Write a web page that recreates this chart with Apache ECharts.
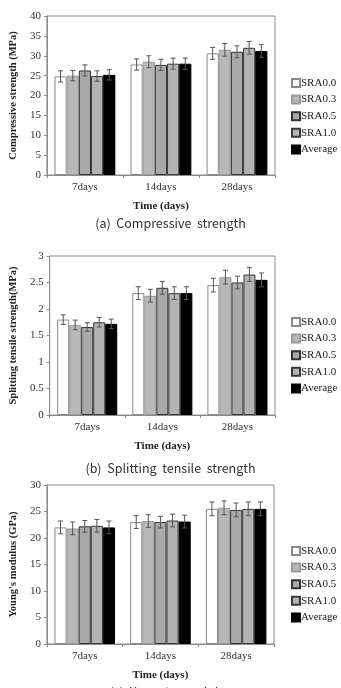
<!DOCTYPE html>
<html>
<head>
<meta charset="utf-8">
<script src="https://cdn.jsdelivr.net/npm/echarts@6/dist/echarts.min.js"></script>
<style>
  html, body { margin: 0; padding: 0; background: #fff; }
  #main { width: 341px; height: 688px; }
</style>
</head>
<body>
<div id="main"></div>
<script>
// data
const days = ['7days', '14days', '28days'];
const names = ['SRA0.0', 'SRA0.3', 'SRA0.5', 'SRA1.0', 'Average'];

const compressive = [
  [24.8, 27.8, 30.6],
  [25.0, 28.5, 31.5],
  [26.3, 27.7, 31.0],
  [24.9, 28.0, 32.0],
  [25.2, 28.0, 31.2]
];
const compressiveErr = [
  [1.4, 1.4, 1.5],
  [1.3, 1.5, 1.6],
  [1.4, 1.4, 1.5],
  [1.3, 1.4, 1.6],
  [1.3, 1.4, 1.6]
];

const tensile = [
  [1.80, 2.30, 2.45],
  [1.70, 2.25, 2.60],
  [1.66, 2.40, 2.50],
  [1.75, 2.30, 2.65],
  [1.72, 2.30, 2.55]
];
const tensileErr = [
  [0.09, 0.12, 0.13],
  [0.09, 0.12, 0.13],
  [0.08, 0.12, 0.12],
  [0.09, 0.12, 0.13],
  [0.09, 0.12, 0.13]
];

const modulus = [
  [22.0, 23.0, 25.5],
  [21.8, 23.2, 25.7],
  [22.2, 23.0, 25.3],
  [22.3, 23.3, 25.5],
  [22.0, 23.1, 25.5]
];
const modulusErr = [
  [1.2, 1.2, 1.3],
  [1.2, 1.2, 1.3],
  [1.1, 1.1, 1.3],
  [1.2, 1.2, 1.3],
  [1.2, 1.2, 1.3]
];

const fills = ['#ffffff', '#b8b8b8', '#a9a9a9', '#b3b3b3', '#000000'];
const borders = ['#8a8a8a', '#9a9a9a', '#333333', '#3a3a3a', '#000000'];

const serif = '"Liberation Serif", "DejaVu Serif", serif';
const catGap = 0.2;

const panels = [
  { vals: compressive, errs: compressiveErr, yName: 'Compressive strength (MPa)', max: 40, step: 5,
    grid: { left: 42, top: 16, width: 233, height: 159 }, legendTop: 72,
    caption: '(a)  Compressive  strength', capTop: 212 },
  { vals: tensile, errs: tensileErr, yName: 'Splitting tensile strength(MPa)', max: 3, step: 0.5,
    grid: { left: 44, top: 256, width: 231, height: 159 }, legendTop: 311,
    caption: '(b)  Splitting  tensile  strength', capTop: 457 },
  { vals: modulus, errs: modulusErr, yName: "Young's modulus (GPa)", max: 30, step: 5,
    grid: { left: 42, top: 485, width: 232, height: 159 }, legendTop: 540,
    caption: "(c)  Young's  modulus", capTop: 681 }
];

const chart = echarts.init(document.getElementById('main'));

const grids = [], xAxes = [], yAxes = [], series = [], legends = [], titles = [];

panels.forEach((p, gi) => {
  grids.push(Object.assign({ show: true, borderColor: '#8c8c8c', borderWidth: 1 }, p.grid));
  xAxes.push({
    type: 'category', gridIndex: gi, data: days,
    axisLine: { lineStyle: { color: '#8c8c8c' } },
    axisTick: { show: true, alignWithLabel: false, length: 3, lineStyle: { color: '#8c8c8c' } },
    axisLabel: { fontFamily: serif, fontSize: 11, color: '#333', margin: 7 },
    name: 'Time (days)', nameLocation: 'middle', nameGap: 26,
    nameTextStyle: { fontFamily: serif, fontSize: 11, fontWeight: 'bold', color: '#222' }
  });
  yAxes.push({
    type: 'value', gridIndex: gi, min: 0, max: p.max, interval: p.step,
    axisLine: { show: true, lineStyle: { color: '#8c8c8c' } },
    axisTick: { show: true, length: 3, lineStyle: { color: '#8c8c8c' } },
    splitLine: { show: false },
    axisLabel: { fontFamily: serif, fontSize: 11, color: '#333', margin: 6 },
    name: p.yName, nameLocation: 'middle', nameGap: 24,
    nameTextStyle: { fontFamily: serif, fontSize: 10.5, fontWeight: 'bold', color: '#222' }
  });
  names.forEach((n, si) => {
    series.push({
      name: n, type: 'bar', xAxisIndex: gi, yAxisIndex: gi,
      data: p.vals[si], barGap: '0%', barCategoryGap: (catGap * 100) + '%',
      itemStyle: { color: fills[si], borderColor: borders[si], borderWidth: 1 }
    });
  });
  const errData = [];
  names.forEach((n, si) => {
    p.vals[si].forEach((v, ci) => errData.push([ci, si, v, p.errs[si][ci]]));
  });
  series.push({
    type: 'custom', xAxisIndex: gi, yAxisIndex: gi, silent: true, z: 5,
    data: errData,
    encode: { x: 0, y: 2 },
    renderItem: (params, api) => {
      const ci = api.value(0), si = api.value(1), v = api.value(2), e = api.value(3);
      const catW = api.size([1, 0])[0];
      const barW = catW * (1 - catGap) / names.length;
      const c = api.coord([ci, v]);
      const x = c[0] + (si - 2) * barW;
      const yTop = api.coord([ci, v + e])[1];
      const yBot = api.coord([ci, v - e])[1];
      const cap = 2.5;
      const style = { stroke: '#555', lineWidth: 1 };
      return {
        type: 'group',
        children: [
          { type: 'line', shape: { x1: x, y1: yTop, x2: x, y2: yBot }, style },
          { type: 'line', shape: { x1: x - cap, y1: yTop, x2: x + cap, y2: yTop }, style },
          { type: 'line', shape: { x1: x - cap, y1: yBot, x2: x + cap, y2: yBot }, style }
        ]
      };
    }
  });
  legends.push({
    data: names, orient: 'vertical', left: 286, top: p.legendTop,
    itemWidth: 8, itemHeight: 8, itemGap: 4.6, icon: 'rect',
    textStyle: { fontFamily: serif, fontSize: 11, color: '#222', lineHeight: 12, padding: [0, 0, 0, -4] },
    selectedMode: false
  });
  titles.push({
    text: p.caption, left: 'center', top: p.capTop,
    textStyle: { fontFamily: '"Noto Sans CJK KR", "Noto Sans", sans-serif', fontSize: 12.5, fontWeight: 'normal', color: '#333' }
  });
});

chart.setOption({
  backgroundColor: '#fff',
  animation: false,
  title: titles,
  legend: legends,
  grid: grids,
  xAxis: xAxes,
  yAxis: yAxes,
  series: series
});

window.addEventListener('resize', () => chart.resize());
</script>
</body>
</html>
